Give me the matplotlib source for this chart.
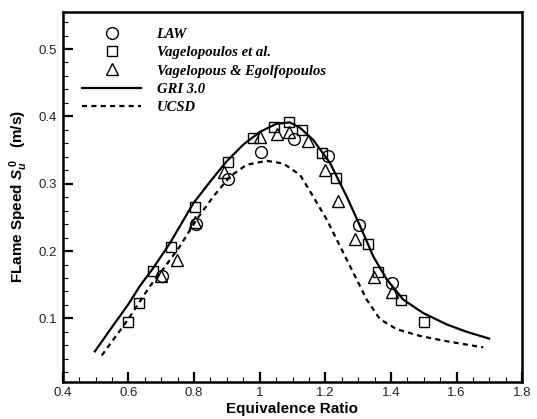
import matplotlib
matplotlib.use("Agg")
import matplotlib.pyplot as plt
from matplotlib.ticker import MultipleLocator

plt.rcParams["mathtext.fontset"] = "custom"
plt.rcParams["mathtext.it"] = "Liberation Sans:italic:bold"
plt.rcParams["mathtext.rm"] = "Liberation Sans:bold"
plt.rcParams["mathtext.bf"] = "Liberation Sans:bold"

# --- data ---
law_phi = [0.704, 0.805, 0.904, 1.004, 1.106, 1.207, 1.303, 1.402]
law_su = [0.163, 0.240, 0.307, 0.347, 0.366, 0.341, 0.238, 0.152]

vag_phi = [0.599, 0.632, 0.676, 0.729, 0.803, 0.903, 0.981, 1.044, 1.090, 1.130,
           1.189, 1.232, 1.331, 1.360, 1.430, 1.500]
vag_su = [0.094, 0.123, 0.170, 0.206, 0.265, 0.332, 0.368, 0.384, 0.391, 0.379,
          0.345, 0.308, 0.210, 0.169, 0.127, 0.094]

veg_phi = [0.700, 0.749, 0.803, 0.891, 1.001, 1.052, 1.090, 1.148, 1.199, 1.240,
           1.290, 1.349, 1.402]
veg_su = [0.163, 0.187, 0.243, 0.317, 0.370, 0.374, 0.377, 0.363, 0.321, 0.274,
          0.218, 0.161, 0.139]

gri_phi = [0.498, 0.553, 0.600, 0.635, 0.676, 0.727, 0.798, 0.849, 0.899, 0.950,
           1.001, 1.051, 1.092, 1.123, 1.163, 1.214, 1.265, 1.306, 1.346, 1.387,
           1.437, 1.498, 1.570, 1.631, 1.699]
gri_su = [0.051, 0.089, 0.121, 0.148, 0.175, 0.212, 0.271, 0.303, 0.333, 0.358,
          0.377, 0.389, 0.391, 0.383, 0.365, 0.331, 0.281, 0.237, 0.192, 0.158,
          0.128, 0.108, 0.091, 0.080, 0.070]

ucsd_phi = [0.519, 0.600, 0.666, 0.706, 0.757, 0.808, 0.859, 0.910, 0.960, 1.021,
            1.072, 1.123, 1.163, 1.204, 1.245, 1.285, 1.326, 1.366, 1.417, 1.488,
            1.570, 1.681]
ucsd_su = [0.045, 0.099, 0.148, 0.173, 0.207, 0.247, 0.281, 0.311, 0.328, 0.334,
           0.330, 0.313, 0.281, 0.247, 0.207, 0.168, 0.128, 0.099, 0.084, 0.074,
           0.066, 0.057]

x_ticks = [0.4, 0.6, 0.8, 1.0, 1.2, 1.4, 1.6, 1.8]
x_ticklabels = ["0.4", "0.6", "0.8", "1", "1.2", "1.4", "1.6", "1.8"]
y_ticks = [0.1, 0.2, 0.3, 0.4, 0.5]
y_ticklabels = ["0.1", "0.2", "0.3", "0.4", "0.5"]

fig = plt.figure(figsize=(5.37, 4.19), dpi=100)
ax = fig.add_axes([62.7 / 537, 1 - 381.7 / 419, (522.3 - 62.7) / 537, (381.7 - 12.3) / 419])

ax.plot(law_phi, law_su, linestyle="none", marker="o", markersize=8.5,
        markerfacecolor="none", markeredgecolor="black", markeredgewidth=1.0, label="LAW")
ax.plot(vag_phi, vag_su, linestyle="none", marker="s", markersize=6.5,
        markerfacecolor="none", markeredgecolor="black", markeredgewidth=1.0,
        label="Vagelopoulos et al.")
ax.plot(veg_phi, veg_su, linestyle="none", marker="^", markersize=8,
        markerfacecolor="none", markeredgecolor="black", markeredgewidth=1.0,
        label="Vagelopous & Egolfopoulos")
ax.plot(gri_phi, gri_su, color="black", linewidth=1.6, label="GRI 3.0")
ax.plot(ucsd_phi, ucsd_su, color="black", linewidth=1.6, dashes=(2.3, 1.9), label="UCSD")

ax.set_xlim(0.4, 1.8)
ax.set_ylim(0.006, 0.5545)
ax.set_xticks(x_ticks)
ax.set_xticklabels(x_ticklabels)
ax.set_yticks(y_ticks)
ax.set_yticklabels(y_ticklabels)
ax.xaxis.set_minor_locator(MultipleLocator(0.05))
ax.yaxis.set_minor_locator(MultipleLocator(0.02))
ax.tick_params(which="both", direction="in", top=False, right=False,
               labelsize=9.5, labelcolor="#222222")
ax.tick_params(which="major", length=7.5, width=1.6, pad=4)
ax.tick_params(which="minor", length=3.5, width=0.8)
for lab in ax.get_xticklabels() + ax.get_yticklabels():
    lab.set_family("Liberation Sans")
for s in ax.spines.values():
    s.set_linewidth(1.8)

ax.set_xlabel("Equivalence Ratio", fontsize=11, fontweight="bold",
              family="Liberation Sans", labelpad=2)
ax.set_ylabel(r"FLame Speed $\mathit{S}_{\mathit{u}}^{\,\mathit{0}}$   (m/s)", fontsize=11,
              fontweight="bold", family="Liberation Sans", labelpad=6)

leg = ax.legend(loc="upper left", bbox_to_anchor=(81.7 / 537, 1 - 28.0 / 419),
                bbox_transform=fig.transFigure, frameon=False, borderpad=0,
                borderaxespad=0, handlelength=4.1, handletextpad=1.03,
                labelspacing=0.34, numpoints=1,
                prop={"family": "Liberation Serif", "style": "italic",
                      "weight": "bold", "size": 10.5})

fig.savefig("out.png", dpi=100)
